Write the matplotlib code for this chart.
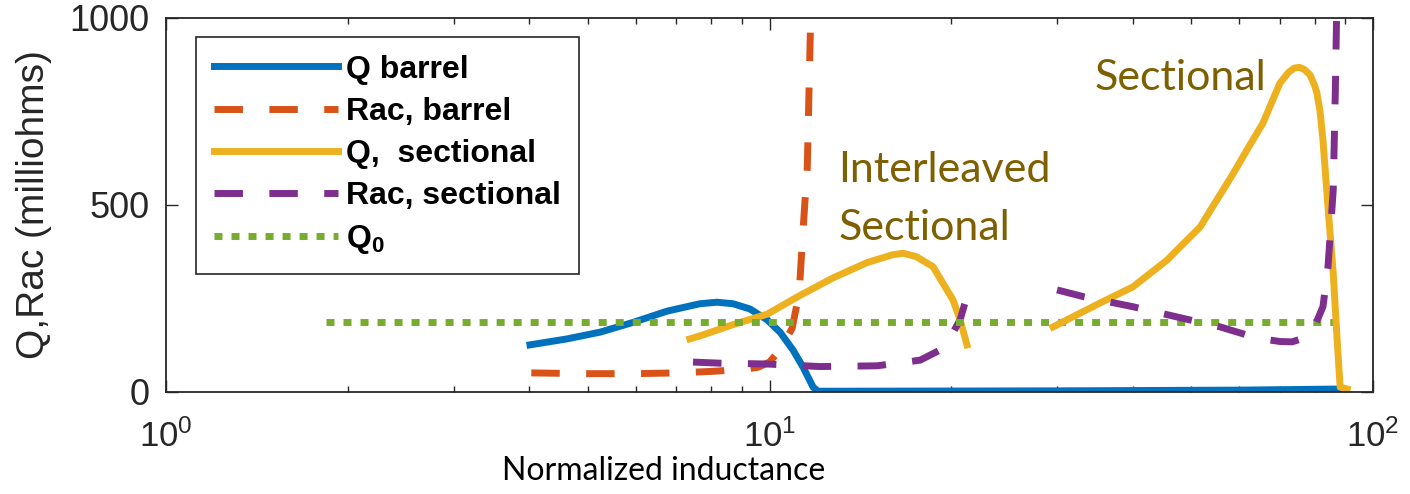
import numpy as np
import matplotlib
matplotlib.use("Agg")
import matplotlib.pyplot as plt

plt.rcParams['font.family'] = ['Liberation Sans', 'DejaVu Sans']

# -------------------------------------------------------------
# DATA
# -------------------------------------------------------------

# Q, barrel winding
q_barrel_x = [4.01, 4.62, 5.24, 5.94, 6.76, 7.67, 8.18, 8.70, 9.28, 9.91, 10.41, 10.94, 11.36,
              11.81, 12.03, 30.0, 60.0, 89.0]
q_barrel_y = [126, 142, 160, 186, 216, 236, 240, 236, 222, 193, 160, 112, 67, 13, 2, 3, 5, 8]

# Rac, barrel winding
rac_barrel_x = [4.03, 5.0, 6.0, 7.0, 8.0, 9.0, 9.57, 10.0, 10.4, 10.9, 11.2, 11.35, 11.55, 11.7, 11.8]
rac_barrel_y = [51, 49, 49, 51, 55, 60, 66, 80, 112, 170, 265, 420, 600, 1000, 1400]

# Q, interleaved sectional winding
q_int_x = [7.38, 7.67, 8.70, 9.91, 11.23, 12.74, 14.51, 16.0, 16.64, 17.5, 18.66, 20.14, 20.69, 21.24]
q_int_y = [142, 150, 180, 208, 258, 305, 346, 367, 371, 362, 335, 246, 193, 126]

# Rac, interleaved sectional winding
rac_int_x = [7.47, 8.28, 9.83, 12.13, 15.07, 17.76, 19.16, 20.0, 20.69, 21.08]
rac_int_y = [80, 77, 75, 68, 70, 85, 112, 150, 193, 238]

# Q, sectional winding
q_sec_x = [29.5, 35.3, 40.0, 45.6, 47.9, 51.7, 54.3, 58.6, 61.8, 65.7, 70.1, 72.5, 74.0,
           75.5, 77.0, 78.6, 80.0, 80.7, 81.7, 82.6, 84.2, 85.9, 87.2, 88.2, 90.6]
q_sec_y = [174, 238, 281, 353, 388, 441, 497, 583, 647, 719, 826, 855, 866,
           868, 862, 848, 820, 800, 750, 674, 495, 318, 139, 13, 8]

# Rac, sectional winding
rac_sec_x = [29.95, 33.1, 40.0, 48.4, 55.8, 62.5, 66.7, 70.1, 73.4, 77.1, 80.0, 82.6,
             84.2, 85.9, 86.6, 87.0, 87.4]
rac_sec_y = [273, 255, 228, 197, 174, 150, 140, 135, 134, 145, 175, 228,
             334, 540, 807, 1000, 1200]

# Q0 reference level
q0_x = [1.84, 85.9]
q0_y = [187, 187]

# -------------------------------------------------------------
# PLOT
# -------------------------------------------------------------

blue = '#0072BD'
orange = '#D95319'
yellow = '#EDB120'
purple = '#7E2F8E'
green = '#77AC30'
olive = '#7F6000'
axcol = '#262626'

fig = plt.figure(figsize=(14.1, 4.94), dpi=100)
ax = fig.add_axes([0.1177, 0.2065, 0.8561, 0.7571])

lw = 5.0

ax.plot(q_barrel_x, q_barrel_y, color=blue, lw=lw, label='Q barrel')
ax.plot(rac_barrel_x, rac_barrel_y, color=orange, lw=lw, dashes=(4.1, 3.8),
        label='Rac, barrel')
ax.plot(q_int_x, q_int_y, color=yellow, lw=lw, label='Q,  sectional')
ax.plot(rac_int_x, rac_int_y, color=purple, lw=lw, dashes=(4.1, 3.8),
        label='Rac, sectional')
ax.plot(q0_x, q0_y, color=green, lw=lw, dashes=(1.15, 1.3),
        dash_capstyle='butt', label=r'$\mathregular{Q_0}$')
ax.plot(q_sec_x, q_sec_y, color=yellow, lw=lw)
ax.plot(rac_sec_x, rac_sec_y, color=purple, lw=lw, dashes=(4.1, 3.8))

ax.set_xscale('log')
ax.set_xlim(1, 100)
ax.set_ylim(0, 1000)
ax.set_yticks([0, 500, 1000])

ax.tick_params(which='both', direction='in', top=True, right=True,
               colors=axcol, labelcolor=axcol)
ax.tick_params(which='major', length=8.5, width=1.0, labelsize=26)
ax.tick_params(which='minor', length=4.5, width=1.0)
ax.tick_params(axis='x', pad=20, labelsize=25)
ax.tick_params(axis='y', pad=12)

for sp in ax.spines.values():
    sp.set_color(axcol)
    sp.set_linewidth(1.3)

# Annotations
ax.text(13.0, 561, 'Interleaved', color=olive, fontsize=31,
        family=['Lato', 'DejaVu Sans'], va='baseline', ha='left')
ax.text(13.0, 406, 'Sectional', color=olive, fontsize=31,
        family=['Lato', 'DejaVu Sans'], va='baseline', ha='left')
ax.text(34.6, 807, 'Sectional', color=olive, fontsize=31,
        family=['Lato', 'DejaVu Sans'], va='baseline', ha='left')

# Labels
ax.set_xlabel('Normalized inductance', fontsize=23,
              family=['Lato', 'DejaVu Sans'], color='black')
ax.xaxis.set_label_coords(0.4126, -0.17)
ax.set_ylabel('Q,Rac (milliohms)', fontsize=28, color=axcol)
ax.yaxis.set_label_coords(-0.094, 0.5)

# Legend
leg = ax.legend(loc='upper left', bbox_to_anchor=(0.0249, 0.949),
                borderaxespad=0, fancybox=False, framealpha=1,
                edgecolor=axcol, handlelength=3.9, handletextpad=0.25,
                labelspacing=0.38, borderpad=0.55,
                prop={'size': 23, 'weight': 'bold'})
leg.get_frame().set_linewidth(1.2)

fig.savefig('out.png', dpi=100)
